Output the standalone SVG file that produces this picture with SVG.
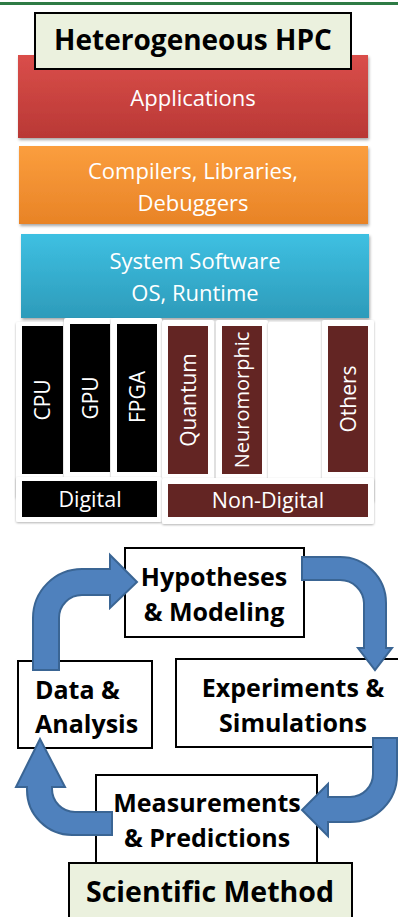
<svg xmlns="http://www.w3.org/2000/svg" width="398" height="917" viewBox="0 0 398 917">
<style>
.lt{font-family:"Open Sans","Noto Sans",sans-serif;font-size:22px;fill:#fff;text-anchor:middle}
.vt{font-family:"Open Sans","Noto Sans",sans-serif;font-size:21px;fill:#fff;text-anchor:middle}
.ht{font-family:"Open Sans","Noto Sans",sans-serif;font-size:21.5px;fill:#fff;text-anchor:middle}
.bt{font-family:"Open Sans","Noto Sans",sans-serif;font-weight:bold;font-size:25px;fill:#000;text-anchor:middle}
.box{fill:#fff;stroke:#000;stroke-width:2}
.card{fill:#fff;filter:url(#cs)}
.arr{fill:#4f81bd;stroke:#3a6594;stroke-width:2;stroke-linejoin:miter}
</style>
<defs>
<linearGradient id="gr" x1="0" y1="0" x2="0" y2="1"><stop offset="0" stop-color="#da4e4a"/><stop offset="1" stop-color="#b93835"/></linearGradient>
<linearGradient id="go" x1="0" y1="0" x2="0" y2="1"><stop offset="0" stop-color="#fb9e3e"/><stop offset="1" stop-color="#e88326"/></linearGradient>
<linearGradient id="gb" x1="0" y1="0" x2="0" y2="1"><stop offset="0" stop-color="#3ec0e2"/><stop offset="1" stop-color="#2d9bba"/></linearGradient>
<filter id="ds" x="-5%" y="-10%" width="112%" height="125%"><feDropShadow dx="1" dy="2" stdDeviation="1.5" flood-color="#000" flood-opacity="0.35"/></filter>
<filter id="cs" x="-10%" y="-5%" width="120%" height="110%"><feDropShadow dx="0" dy="1" stdDeviation="1.2" flood-color="#000" flood-opacity="0.3"/></filter>
</defs>
<rect x="0" y="2" width="398" height="3" fill="#2e7b45"/>
<g id="applications">
<rect x="18" y="55" width="350" height="83" fill="url(#gr)" filter="url(#ds)"/>
<text class="lt" x="193" y="106">Applications</text>
</g>
<g id="title-hpc">
<rect x="35" y="13" width="316" height="56" fill="#ebf1de" stroke="#000" stroke-width="2"/>
<text class="bt" x="193" y="50" style="font-size:28px">Heterogeneous HPC</text>
</g>
<g id="compilers">
<rect x="19" y="146" width="349" height="78" fill="url(#go)" filter="url(#ds)"/>
<text class="lt" x="193" y="179">Compilers, Libraries,</text>
<text class="lt" x="193" y="211">Debuggers</text>
</g>
<g id="system-software">
<rect x="21" y="234" width="348" height="84" fill="url(#gb)" filter="url(#ds)"/>
<text class="lt" x="195" y="269">System Software</text>
<text class="lt" x="195" y="301">OS, Runtime</text>
</g>
<g id="cards">
<rect class="card" x="16" y="322" width="50" height="176" rx="2"/>
<rect class="card" x="64" y="318" width="50" height="184" rx="2"/>
<rect class="card" x="111" y="318" width="51" height="185" rx="2"/>
<rect class="card" x="162" y="320" width="52" height="182" rx="2"/>
<rect class="card" x="216" y="320" width="52" height="182" rx="2"/>
<rect class="card" x="268" y="322" width="54" height="178" rx="2"/>
<rect class="card" x="322" y="320" width="52" height="182" rx="2"/>
<rect class="card" x="16" y="477" width="146" height="45" rx="2"/>
<rect class="card" x="162" y="478" width="212" height="46" rx="2"/>
</g>
<g id="cpu"><rect x="22" y="326" width="41" height="148" fill="#000"/><text class="vt" transform="translate(50,400) rotate(-90)">CPU</text></g>
<g id="gpu"><rect x="70" y="324" width="40" height="148" fill="#000"/><text class="vt" transform="translate(98,398) rotate(-90)">GPU</text></g>
<g id="fpga"><rect x="117" y="324" width="40" height="148" fill="#000"/><text class="vt" transform="translate(145,397) rotate(-90)">FPGA</text></g>
<g id="quantum"><rect x="168" y="326" width="40" height="148" fill="#632523"/><text class="vt" transform="translate(196,400) rotate(-90)">Quantum</text></g>
<g id="neuromorphic"><rect x="222" y="326" width="40" height="148" fill="#632523"/><text class="vt" transform="translate(249,400) rotate(-90)" style="font-size:20px">Neuromorphic</text></g>
<g id="others"><rect x="328" y="326" width="40" height="146" fill="#632523"/><text class="vt" transform="translate(356,399) rotate(-90)">Others</text></g>
<g id="digital"><rect x="22" y="481" width="135" height="36" fill="#000"/><text class="ht" x="90" y="507">Digital</text></g>
<g id="non-digital"><rect x="168" y="484" width="200" height="33" fill="#632523"/><text class="ht" x="268" y="508">Non-Digital</text></g>
<g id="hypotheses">
<rect class="box" x="125" y="548" width="179" height="89"/>
<text class="bt" x="214" y="586">Hypotheses</text>
<text class="bt" x="214" y="621">&amp; Modeling</text>
</g>
<g id="data-analysis">
<rect class="box" x="18" y="661" width="134" height="87"/>
<text class="bt" x="35" y="699" style="text-anchor:start">Data &amp;</text>
<text class="bt" x="35" y="733" style="text-anchor:start">Analysis</text>
</g>
<g id="experiments">
<rect class="box" x="176" y="659" width="236" height="88"/>
<text class="bt" x="293" y="697">Experiments &amp;</text>
<text class="bt" x="293" y="732">Simulations</text>
</g>
<g id="measurements">
<rect class="box" x="96" y="775" width="221" height="90"/>
<text class="bt" x="207" y="812">Measurements</text>
<text class="bt" x="207" y="847">&amp; Predictions</text>
</g>
<g id="scientific-method">
<rect x="69" y="863" width="283" height="60" fill="#ebf1de" stroke="#000" stroke-width="2"/>
<text class="bt" x="210" y="902" style="font-size:28.5px">Scientific Method</text>
</g>
<g id="connectors">
<path class="arr" d="M33,670 L33,618 A49,49 0 0 1 82,569 L110,569 L110,555 L137,582 L110,608 L110,595 L82,595 A23,23 0 0 0 59,618 L59,670 Z"/>
<path class="arr" d="M302,557 L340,557 A46,46 0 0 1 386,603 L386,648 L392,648 L375,670 L358,648 L364,648 L364,603 A24,24 0 0 0 340,580 L302,580 Z"/>
<path class="arr" d="M373,738 L397,738 L397,775 A47,47 0 0 1 350,822 L328,822 L328,836 L302,810 L328,784 L328,797 L350,797 A23,23 0 0 0 373,774 Z"/>
<path class="arr" d="M112,812 L75,812 A23,23 0 0 1 52,789 L52,787 L65,787 L40,739 L16,787 L27,787 L27,790 A45,45 0 0 0 72,835 L112,835 Z"/>
</g>
</svg>
